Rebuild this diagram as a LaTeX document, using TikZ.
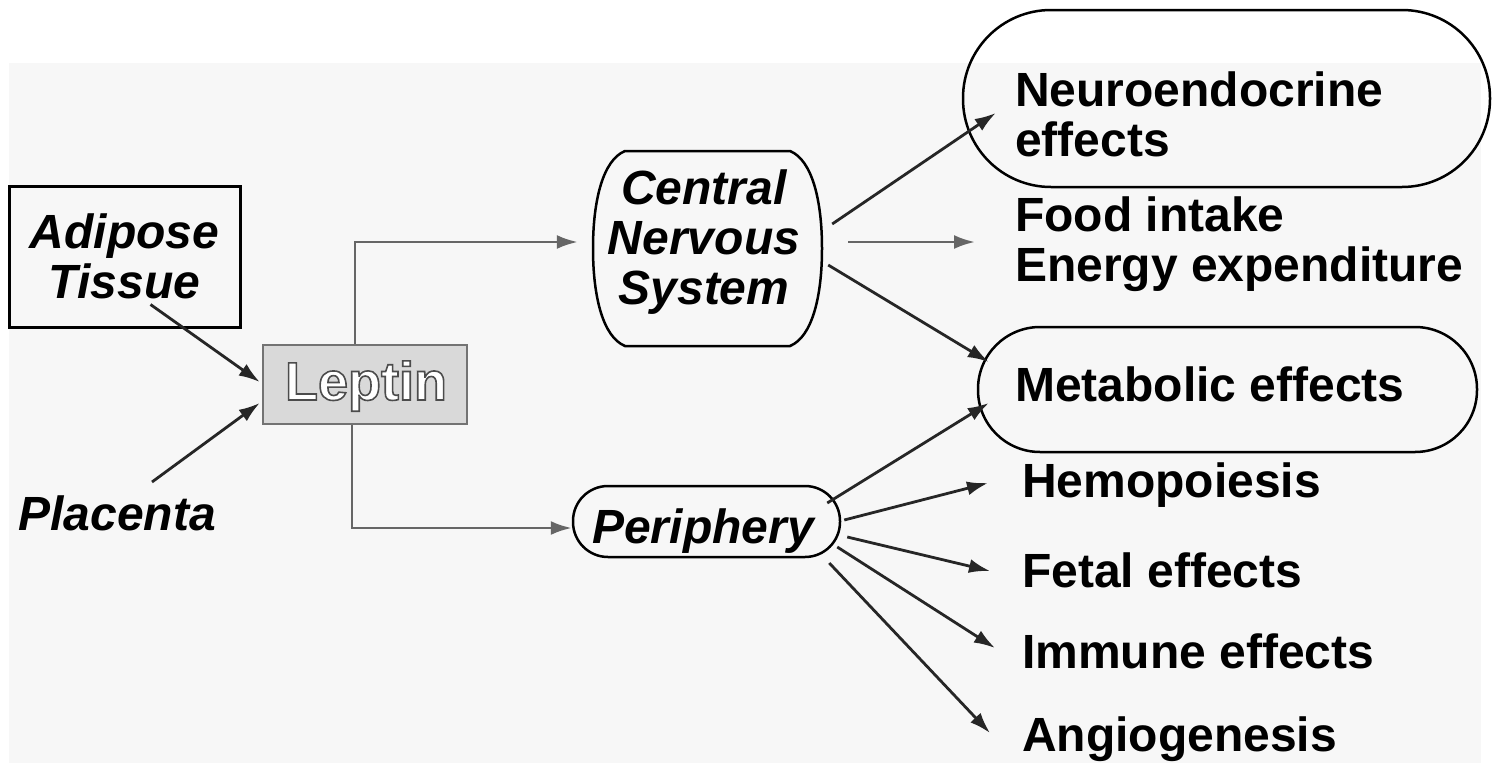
\documentclass[tikz,border=0pt]{standalone}
\usepackage{fontspec}
\setmainfont{Liberation Sans}
\usetikzlibrary{arrows.meta,calc}
\begin{document}
\begin{tikzpicture}[x=1pt,y=-1pt,
  big/.style={font=\fontsize{48}{50}\selectfont\bfseries, inner sep=0pt, text=black},
  bigit/.style={font=\fontsize{48}{50}\selectfont\bfseries\itshape, inner sep=0pt, text=black},
  shapeline/.style={draw=black, line width=2.5pt},
  arr/.style={draw=black!85, line width=2.8pt, -{Latex[length=21pt,width=14pt]}},
  garr/.style={draw=black!60, line width=2.8pt, -{Latex[length=21pt,width=14pt]}},
]
\useasboundingbox (0,0) rectangle (1492,763);
\fill[black!3] (9,63) rectangle (1481,763);

% left side
\node[draw=black, line width=3pt, minimum width=231pt, minimum height=141pt, inner sep=0pt, align=center, bigit] (adip) at (124.5,256.5) {Adipose\\Tissue};
\node[bigit, anchor=base] (plac) at (117,530) {Placenta};

% Leptin
\node[draw=black!55, fill=black!15, line width=2.5pt, minimum width=204pt, minimum height=79pt, inner sep=0pt] (lep) at (365,384.5) {};
\node[font=\fontsize{54}{54}\selectfont\bfseries, anchor=base, inner sep=0pt, text=white] (lepText) at (366,400)
  {\special{pdf:literal direct 0.3 0.3 0.3 RG 1.6 w 2 Tr}Leptin\special{pdf:literal direct 0 Tr}};

% CNS
\node[minimum width=229pt, minimum height=195pt, inner sep=0pt] (cns) at (707.5,248.5) {};
\draw[shapeline] (625,151) -- (790,151) .. controls (812,160) and (822,200) .. (822,248.5)
  .. controls (822,297) and (812,337) .. (790,346) -- (625,346)
  .. controls (603,337) and (593,297) .. (593,248.5)
  .. controls (593,200) and (603,160) .. (625,151) -- cycle;
\node[bigit, align=center, anchor=north] (cnsText) at (704,170) {Central\\Nervous\\System};

% Periphery
\node[shapeline, rounded corners=35pt, minimum width=267pt, minimum height=71pt, inner sep=0pt] (per) at (706.5,521.5) {};
\node[bigit, anchor=base] (perText) at (703,543) {Periphery};

% right ovals
\node[shapeline, rounded corners=88pt, minimum width=527pt, minimum height=177pt, inner sep=0pt] (neuro) at (1226.5,98.5) {};
\node[shapeline, rounded corners=62pt, minimum width=499pt, minimum height=125pt, inner sep=0pt] (met) at (1227.5,389.5) {};

% right texts
\node[big, anchor=north west, align=left] (neuroText) at (1015,72) {Neuroendocrine\\effects};
\node[big, anchor=north west, align=left] (food) at (1015,197) {Food intake\\Energy expenditure};
\node[big, anchor=base west] (metText) at (1015,401) {Metabolic effects};
\node[big, anchor=base west] (hemo) at (1022,497) {Hemopoiesis};
\node[big, anchor=base west] (fetal) at (1022,587) {Fetal effects};
\node[big, anchor=base west] (immune) at (1022,668) {Immune effects};
\node[big, anchor=base west] (angio) at (1022,751) {Angiogenesis};

% connectors
\draw[arr] ($(adip.south)+(26,-24)$) -- ($(lep.west)+(-2,-2.5)$);
\draw[arr] ($(plac.base)+(35,-48)$) -- ($(lep.west)+(-2,18.5)$);
\draw[garr] ($(lep.north)+(-10,0)$) |- ($(cns.west)+(-15,-6.5)$);
\draw[garr] ($(lep.south)+(-13,0)$) |- ($(per.west)+(0,6.5)$);

\draw[arr] ($(cns.east)+(10,-24.5)$) -- ($(neuro.west)+(34,14.5)$);
\draw[garr] ($(cns.east)+(26,-6.5)$) -- ($(food.north west)+(-40,45)$);
\draw[arr] ($(cns.east)+(6,16.5)$) -- ($(met.west)+(12,-27.5)$);

\draw[arr] ($(per.east)+(-14,-18.5)$) -- ($(met.west)+(12,13.5)$);
\draw[arr] ($(per.east)+(3,-1.5)$) -- ($(hemo.base west)+(-34,-14)$);
\draw[arr] ($(per.east)+(6,15.5)$) -- ($(fetal.base west)+(-32,-16)$);
\draw[arr] ($(per.east)+(-4,25.5)$) -- ($(immune.base west)+(-27,-20)$);
\draw[arr] ($(per.east)+(-12,41.5)$) -- ($(angio.base west)+(-32,-18)$);
\end{tikzpicture}
\end{document}
